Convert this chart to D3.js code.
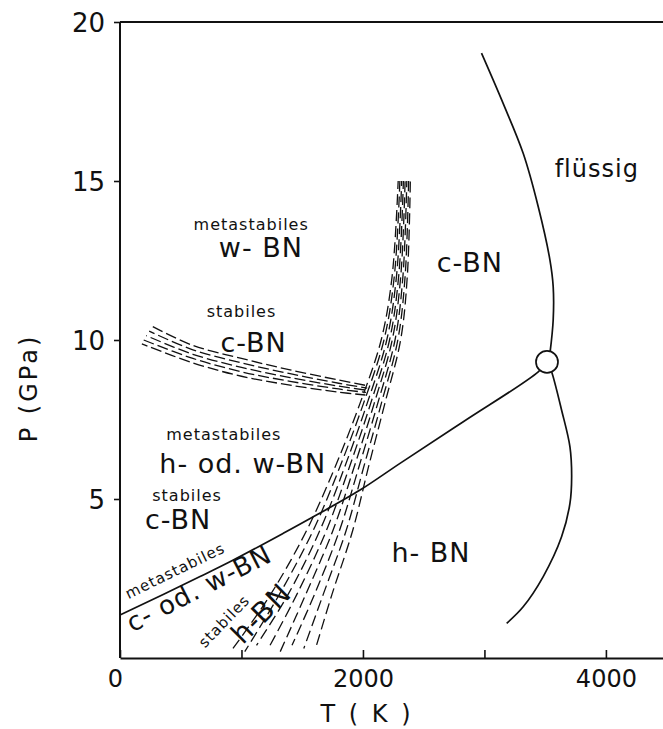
<!DOCTYPE html>
<html>
<head>
<meta charset="utf-8">
<script src="https://cdn.jsdelivr.net/npm/d3@7/dist/d3.min.js"></script>
<style>
  html, body { margin: 0; padding: 0; background: #fff; }
  svg text { font-family: "DejaVu Sans", sans-serif; fill: #111; }
</style>
</head>
<body>
<div id="chart"></div>
<script>
// BN phase diagram, T (K) vs P (GPa)

// ticks
const pTicks = [5, 10, 15, 20];
const tTicks = [0, 1000, 2000, 3000, 4000];
const tTickLabels = ["0", "", "2000", "", "4000"];

// solid h-BN / c-BN equilibrium line, ends at the triple point
const phaseLine = [[0, 1.35], [659, 2.56], [933, 3.08], [1344, 3.92], [1591, 4.44],
  [1976, 5.28], [2305, 6.12], [2826, 7.43], [3443, 9.0], [3515, 9.31]];

// melting curve, above and below the triple point
const meltUpper = [[2976, 19.02], [3154, 17.44], [3319, 15.87], [3443, 14.19], [3539, 12.52],
  [3566, 11.68], [3566, 10.63], [3540, 9.6]];
const meltLower = [[3540, 9.1], [3553, 9.0], [3635, 7.8], [3704, 6.64], [3718, 5.7], [3704, 4.86],
  [3635, 3.81], [3484, 2.56], [3319, 1.61], [3183, 1.09]];

const triplePoint = [3515, 9.31];

// dashed band, w-BN / c-BN boundary (top to bottom)
const bandLines = [
  [[270, 10.42], [600, 9.83], [1000, 9.42], [1400, 9.06], [1800, 8.74], [2040, 8.56]],
  [[240, 10.28], [600, 9.69], [1000, 9.28], [1400, 8.94], [1800, 8.64], [2035, 8.49]],
  [[215, 10.14], [600, 9.55], [1000, 9.14], [1400, 8.82], [1800, 8.55], [2030, 8.42]],
  [[195, 10.0], [600, 9.42], [1000, 9.0], [1400, 8.7], [1800, 8.46], [2025, 8.35]],
  [[180, 9.88], [600, 9.28], [1000, 8.86], [1400, 8.58], [1800, 8.36], [2020, 8.27]]
];

// dashed fan, h-BN transformation lines (left to right)
const fanLines = [
  [[930, 0.3], [1240, 2], [1535, 4], [1770, 6], [1975, 8], [2150, 10], [2240, 12], [2290, 15]],
  [[1027, 0.2], [1312, 2], [1589, 4], [1809, 6], [2004, 8], [2173, 10], [2258, 12], [2304, 15]],
  [[1124, 0.4], [1384, 2], [1644, 4], [1849, 6], [2034, 8], [2196, 10], [2276, 12], [2319, 15]],
  [[1221, 0.3], [1456, 2], [1698, 4], [1888, 6], [2063, 8], [2219, 10], [2294, 12], [2333, 15]],
  [[1319, 0.2], [1529, 2], [1752, 4], [1927, 6], [2092, 8], [2241, 10], [2311, 12], [2347, 15]],
  [[1416, 0.4], [1601, 2], [1806, 4], [1966, 6], [2121, 8], [2264, 10], [2329, 12], [2361, 15]],
  [[1513, 0.3], [1673, 2], [1861, 4], [2006, 6], [2151, 8], [2287, 10], [2347, 12], [2376, 15]],
  [[1610, 0.3], [1745, 2], [1915, 4], [2045, 6], [2180, 8], [2310, 10], [2365, 12], [2390, 15]]
];

// region labels: [T, P, text, size, angle, anchor]
const labels = [
  [1080, 13.45, "metastabiles", 16, 0, "middle"],
  [1160, 12.6, "w- BN", 27, 0, "middle"],
  [1000, 10.72, "stabiles", 16, 0, "middle"],
  [1100, 9.62, "c-BN", 27, 0, "middle"],
  [855, 6.85, "metastabiles", 16, 0, "middle"],
  [1010, 5.82, "h- od. w-BN", 27, 0, "middle"],
  [552, 4.93, "stabiles", 16, 0, "middle"],
  [478, 4.06, "c-BN", 27, 0, "middle"],
  [2880, 12.14, "c-BN", 27, 0, "middle"],
  [3925, 15.12, "flüssig", 24, 0, "middle"],
  [2560, 3.02, "h- BN", 27, 0, "middle"],
  [70, 1.85, "metastabiles", 15, -26, "start"],
  [100, 0.8, "c- od. w-BN", 26, -27, "start"],
  [700, 0.3, "stabiles", 15, -46, "start"],
  [1010, 0.4, "h-BN", 28, -45, "start"]
];

const width = 663, height = 729;
const T_MAX = 4470;

const svg = d3.select("#chart").append("svg")
  .attr("width", width)
  .attr("height", height);

const x = d3.scaleLinear().domain([0, T_MAX]).range([120, 663]);
const y = d3.scaleLinear().domain([0, 20]).range([658, 22]);

// axes
const yAxis = d3.axisLeft(y).tickValues(pTicks).tickSize(6).tickSizeOuter(0).tickPadding(9);
const gy = svg.append("g").attr("transform", `translate(${x(0)},0)`).call(yAxis);
gy.select(".domain").attr("d", `M0,${y(0)}V${y(20)}`);
gy.selectAll("text").style("font-size", "26px").attr("dy", "0.36em");

const xAxis = d3.axisBottom(x).tickValues(tTicks).tickSizeInner(-8).tickSizeOuter(0)
  .tickPadding(12).tickFormat((d, i) => tTickLabels[i]);
const gx = svg.append("g").attr("transform", `translate(0,${y(0)})`).call(xAxis);
gx.selectAll("text").style("font-size", "24px");
gx.selectAll(".tick").filter(d => d === 0).select("text").attr("x", -5);

[gx, gy].forEach(g => {
  g.selectAll(".domain").attr("stroke", "#111").attr("stroke-width", 2);
  g.selectAll(".tick line").attr("stroke", "#111").attr("stroke-width", 1.6);
});

// top frame
svg.append("line")
  .attr("x1", x(0)).attr("x2", x(T_MAX))
  .attr("y1", y(20)).attr("y2", y(20))
  .attr("stroke", "#111").attr("stroke-width", 2);

// axis titles
svg.append("text")
  .attr("transform", `translate(37, 388) rotate(-90)`)
  .attr("text-anchor", "middle")
  .style("font-size", "24px")
  .style("letter-spacing", "3px")
  .text("P (GPa)");

svg.append("text")
  .attr("x", 367).attr("y", 722)
  .attr("text-anchor", "middle")
  .style("font-size", "24px")
  .style("letter-spacing", "3px")
  .text("T ( K )");

// curves
const line = d3.line().x(d => x(d[0])).y(d => y(d[1])).curve(d3.curveCatmullRom.alpha(0.5));

bandLines.forEach((pts, i) => {
  svg.append("path").attr("d", line(pts))
    .attr("fill", "none").attr("stroke", "#111").attr("stroke-width", 1.3)
    .attr("stroke-dasharray", "11,4").attr("stroke-dashoffset", i * 5);
});

fanLines.forEach((pts, i) => {
  svg.append("path").attr("d", line(pts))
    .attr("fill", "none").attr("stroke", "#111").attr("stroke-width", 1.3)
    .attr("stroke-dasharray", "11,5").attr("stroke-dashoffset", i * 4);
});

[phaseLine, meltUpper, meltLower].forEach(pts => {
  svg.append("path").attr("d", line(pts))
    .attr("fill", "none").attr("stroke", "#111").attr("stroke-width", 1.7);
});

svg.append("circle")
  .attr("cx", x(triplePoint[0])).attr("cy", y(triplePoint[1])).attr("r", 11)
  .attr("fill", "#fff").attr("stroke", "#111").attr("stroke-width", 1.7);

// labels
labels.forEach(([t, p, txt, size, angle, anchor]) => {
  svg.append("text")
    .attr("transform", `translate(${x(t)},${y(p)}) rotate(${angle})`)
    .attr("text-anchor", anchor)
    .style("font-size", size + "px")
    .style("letter-spacing", "1px")
    .text(txt);
});
</script>
</body>
</html>
